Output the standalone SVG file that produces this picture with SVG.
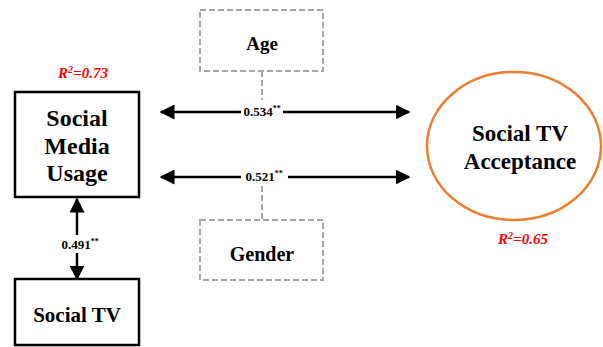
<svg xmlns="http://www.w3.org/2000/svg" width="603" height="347" viewBox="0 0 603 347">
<style>
.box{fill:#fff;stroke:#000;stroke-width:2.5}
.dbox{fill:#fff;stroke:#a6a6a6;stroke-width:2;stroke-dasharray:6 3}
.dline{stroke:#a6a6a6;stroke-width:2;stroke-dasharray:6 3}
.t{font-family:"Liberation Serif",serif;font-weight:bold;fill:#000;text-anchor:middle}
.r2{font-family:"Liberation Serif",serif;font-weight:bold;font-style:italic;fill:#ff0000;text-anchor:middle;font-size:15px}
.lbl{font-family:"Liberation Serif",serif;font-weight:bold;fill:#000;text-anchor:middle;font-size:13px}
.conn{stroke:#000;stroke-width:2.5;fill:none}
</style>
<defs>
<marker id="ah" viewBox="0 0 10 10" refX="9" refY="5" markerWidth="6" markerHeight="6" orient="auto-start-reverse" markerUnits="strokeWidth">
<path d="M0,0 L10,5 L0,10 z" fill="#000"/>
</marker>
</defs>
<g id="connectors">
<line class="dline" x1="262" y1="71" x2="262" y2="100"/>
<line class="dline" x1="262" y1="186" x2="262" y2="220"/>
<line class="conn" x1="161" y1="112" x2="241" y2="112" marker-start="url(#ah)"/>
<line class="conn" x1="283" y1="112" x2="409" y2="112" marker-end="url(#ah)"/>
<line class="conn" x1="161" y1="177" x2="241" y2="177" marker-start="url(#ah)"/>
<line class="conn" x1="288" y1="177" x2="409" y2="177" marker-end="url(#ah)"/>
<line class="conn" x1="77" y1="199" x2="77" y2="235" marker-start="url(#ah)"/>
<line class="conn" x1="77" y1="253" x2="77" y2="279" marker-end="url(#ah)"/>
<text class="lbl" x="262" y="116">0.534<tspan font-size="8" dy="-5">**</tspan></text>
<text class="lbl" x="264" y="181">0.521<tspan font-size="8" dy="-5">**</tspan></text>
<text class="lbl" x="80" y="249">0.491<tspan font-size="8" dy="-5">**</tspan></text>
</g>
<g id="sm">
<rect class="box" x="15" y="92" width="124" height="105"/>
<text class="t" x="77" y="126" font-size="24">Social</text>
<text class="t" x="77" y="154" font-size="24">Media</text>
<text class="t" x="77" y="181" font-size="24">Usage</text>
<text class="r2" x="83" y="78">R<tspan font-size="10" dy="-5">2</tspan><tspan dy="5">=0.73</tspan></text>
</g>
<g id="stv">
<rect class="box" x="15" y="279" width="124" height="66"/>
<text class="t" x="77" y="322" font-size="21">Social TV</text>
</g>
<g id="age">
<rect class="dbox" x="200" y="10" width="123" height="61"/>
<text class="t" x="262" y="50" font-size="19">Age</text>
</g>
<g id="gender">
<rect class="dbox" x="200" y="220" width="123" height="60"/>
<text class="t" x="262" y="261" font-size="20">Gender</text>
</g>
<g id="sta">
<ellipse cx="514" cy="146" rx="87" ry="74" fill="#fff" stroke="#ed7d31" stroke-width="2.5"/>
<text class="t" x="520" y="141" font-size="23">Social TV</text>
<text class="t" x="520" y="169" font-size="23">Acceptance</text>
<text class="r2" x="523" y="244">R<tspan font-size="10" dy="-5">2</tspan><tspan dy="5">=0.65</tspan></text>
</g>
</svg>
